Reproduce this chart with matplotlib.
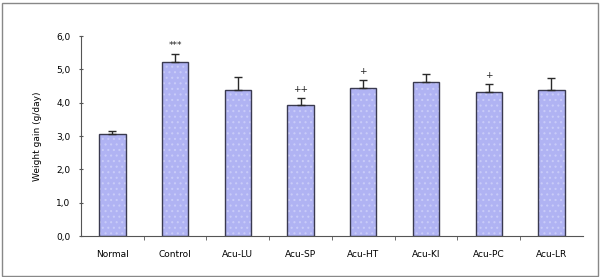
import numpy as np
import matplotlib.pyplot as plt
from matplotlib.patches import Rectangle

# data
groups = ["Normal", "Control", "Acu-LU", "Acu-SP", "Acu-HT", "Acu-KI", "Acu-PC", "Acu-LR"]
gain = [3.06, 5.23, 4.38, 3.92, 4.43, 4.63, 4.31, 4.38]
sem = [0.10, 0.23, 0.40, 0.22, 0.25, 0.23, 0.24, 0.35]
marks = ["", "***", "", "++", "+", "", "+", ""]

plt.rcParams["hatch.linewidth"] = 0.8

fig = plt.figure(figsize=(6.09, 2.77), dpi=100)
ax = fig.add_axes([0.133, 0.148, 0.824, 0.722])

x = np.arange(len(groups))
# light dotted fill, then dark outline on top
ax.bar(x, gain, width=0.42, color="#b0b3f3", edgecolor="#c8cbf8", linewidth=0,
       hatch="...", zorder=2)
ax.bar(x, gain, width=0.42, fill=False, edgecolor="#3a3a50", linewidth=1.0, zorder=2.5)
ax.errorbar(x, gain, yerr=[np.zeros(len(sem)), sem], fmt="none", ecolor="#2a2a2a",
            elinewidth=1.0, capsize=3, capthick=1.0, zorder=3)

for xi, g, s, m in zip(x, gain, sem, marks):
    if m:
        ax.text(xi, g + s + 0.12, m, ha="center", va="bottom", fontsize=6.5,
                color="#222222")

ax.set_xlim(-0.5, len(groups) - 0.5)
ax.set_ylim(0, 6)
ax.set_yticks(np.arange(0, 6.1, 1.0))
ax.set_yticklabels([f"{v:.1f}".replace(".", ",") for v in np.arange(0, 6.1, 1.0)],
                   fontsize=6.5)
ax.set_xticks(x)
ax.set_xticklabels(groups, fontsize=6.5)
ax.set_xticks(x[:-1] + 0.5, minor=True)
ax.tick_params(axis="x", which="major", length=0, pad=10)
ax.tick_params(axis="x", which="minor", length=3, direction="out", color="#555555")
ax.tick_params(axis="y", length=3, direction="inout", color="#555555", pad=6)

ax.spines["top"].set_visible(False)
ax.spines["right"].set_visible(False)
ax.spines["left"].set_color("#555555")
ax.spines["bottom"].set_color("#555555")
ax.set_ylabel("Weight gain (g/day)", fontsize=6.5, labelpad=10)

# outer frame
fig.patches.append(Rectangle((0.004, 0.004), 0.978, 0.985, transform=fig.transFigure,
                             fill=False, edgecolor="#888888", linewidth=1.0))

fig.savefig("out.png", dpi=100)
